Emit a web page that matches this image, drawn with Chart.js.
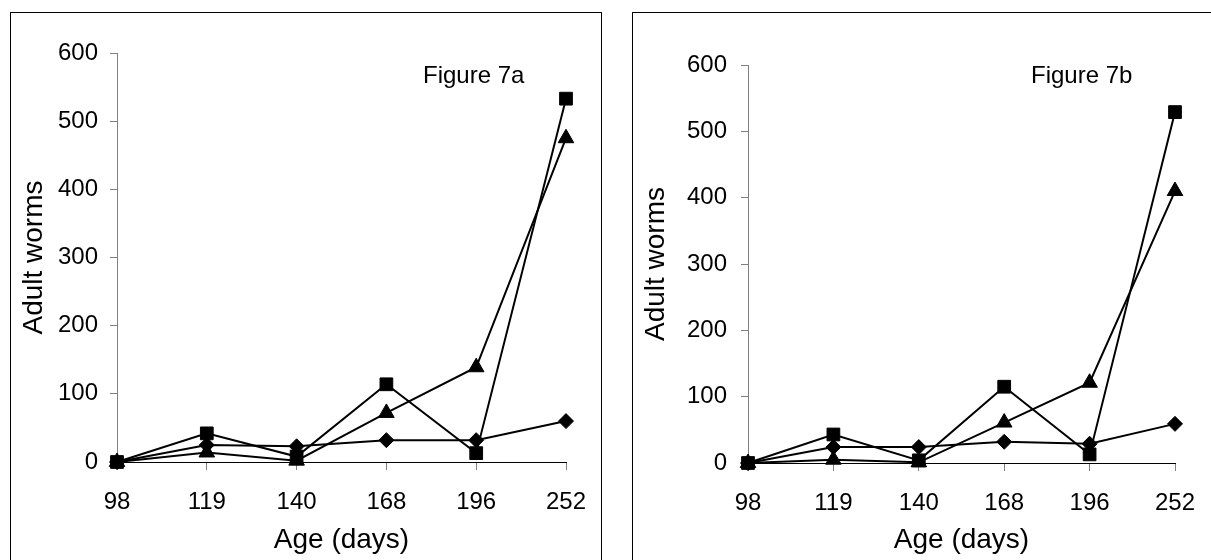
<!DOCTYPE html>
<html>
<head>
<meta charset="utf-8">
<script src="https://cdn.jsdelivr.net/npm/chart.js@4"></script>
<style>
html, body { margin:0; padding:0; overflow:hidden; }
body { background:#fff; width:1211px; height:560px; position:relative; font-family:"Liberation Sans", Arial, sans-serif; }
.box { position:absolute; border:1px solid #000; box-sizing:border-box; }
.box canvas { display:block; }
.fig { position:absolute; font-size:24px; line-height:24px; color:#000; white-space:nowrap; }
</style>
</head>
<body>
<div class="box" style="left:10px;top:12px;width:592px;height:560px"><canvas id="chartA" width="590" height="558"></canvas></div>
<div class="box" style="left:632px;top:12px;width:600px;height:560px"><canvas id="chartB" width="598" height="558"></canvas></div>
<div class="fig" style="left:423px;top:63px">Figure 7a</div>
<div class="fig" style="left:1031px;top:63px">Figure 7b</div>
<script>
// ages (days) on the x axis
var ages = ['98', '119', '140', '168', '196', '252'];

// Figure 7a
var squaresA = [0, 42, 8, 114, 13, 533];
var trianglesA = [0, 14, 2, 72, 139, 475];
var diamondsA = [0, 25, 23, 32, 32, 60];

// Figure 7b
var squaresB = [0, 43, 4, 115, 13, 529];
var trianglesB = [0, 5, 1, 61, 121, 410];
var diamondsB = [0, 24, 24, 32, 29, 59];

var yMin = 0, yMax = 600, yStep = 100;
var yTitle = 'Adult worms';
var xTitle = 'Age (days)';

Chart.defaults.font.family = '"Liberation Sans", Arial, sans-serif';
Chart.defaults.color = '#000';

function series(values, style, r) {
  return {
    data: values,
    borderColor: '#000',
    backgroundColor: '#000',
    borderWidth: 2,
    pointStyle: style,
    pointRadius: r,
    pointBorderWidth: 1,
    pointBackgroundColor: '#000',
    pointBorderColor: '#000',
    tension: 0,
    clip: false
  };
}

function makeChart(id, sq, tri, dia, geo) {
  return new Chart(document.getElementById(id), {
    type: 'line',
    data: {
      labels: ages,
      datasets: [
        series(dia, 'rectRot', 7.5),
        series(tri, 'triangle', 9),
        series(sq, 'rect', 9)
      ]
    },
    options: {
      responsive: false,
      animation: false,
      devicePixelRatio: 1,
      layout: { padding: { top: geo.top, right: geo.right, left: 0, bottom: 0 } },
      plugins: { legend: { display: false }, tooltip: { enabled: false } },
      scales: {
        x: {
          type: 'category',
          offset: false,
          grid: { drawOnChartArea: false, tickLength: 8, color: '#808080', offset: false },
          border: { color: '#000', width: 1 },
          ticks: { font: { size: 24 }, padding: 18, maxRotation: 0, autoSkip: false },
          title: { display: true, text: xTitle, font: { size: 28 }, padding: { top: 0, bottom: 14 } },
          afterFit: function (s) {
            s.height = geo.bottom;
            // the label overhang fits in the side margins already
            s.paddingLeft = 0;
            s.paddingRight = 0;
          }
        },
        y: {
          min: yMin,
          max: yMax,
          grid: { drawOnChartArea: false, tickLength: 7, color: '#808080' },
          border: { color: '#808080', width: 1 },
          ticks: { stepSize: yStep, font: { size: 24 }, padding: geo.tickPad },
          title: { display: true, text: yTitle, font: { size: 28 }, padding: { top: 6, bottom: 0 } },
          afterFit: function (s) { s.width = geo.left; }
        }
      }
    }
  });
}

makeChart('chartA', squaresA, trianglesA, diamondsA, { left: 106, top: 40, right: 35, bottom: 109, tickPad: 12 });
makeChart('chartB', squaresB, trianglesB, diamondsB, { left: 115, top: 52, right: 56, bottom: 108, tickPad: 14 });
</script>
</body>
</html>
